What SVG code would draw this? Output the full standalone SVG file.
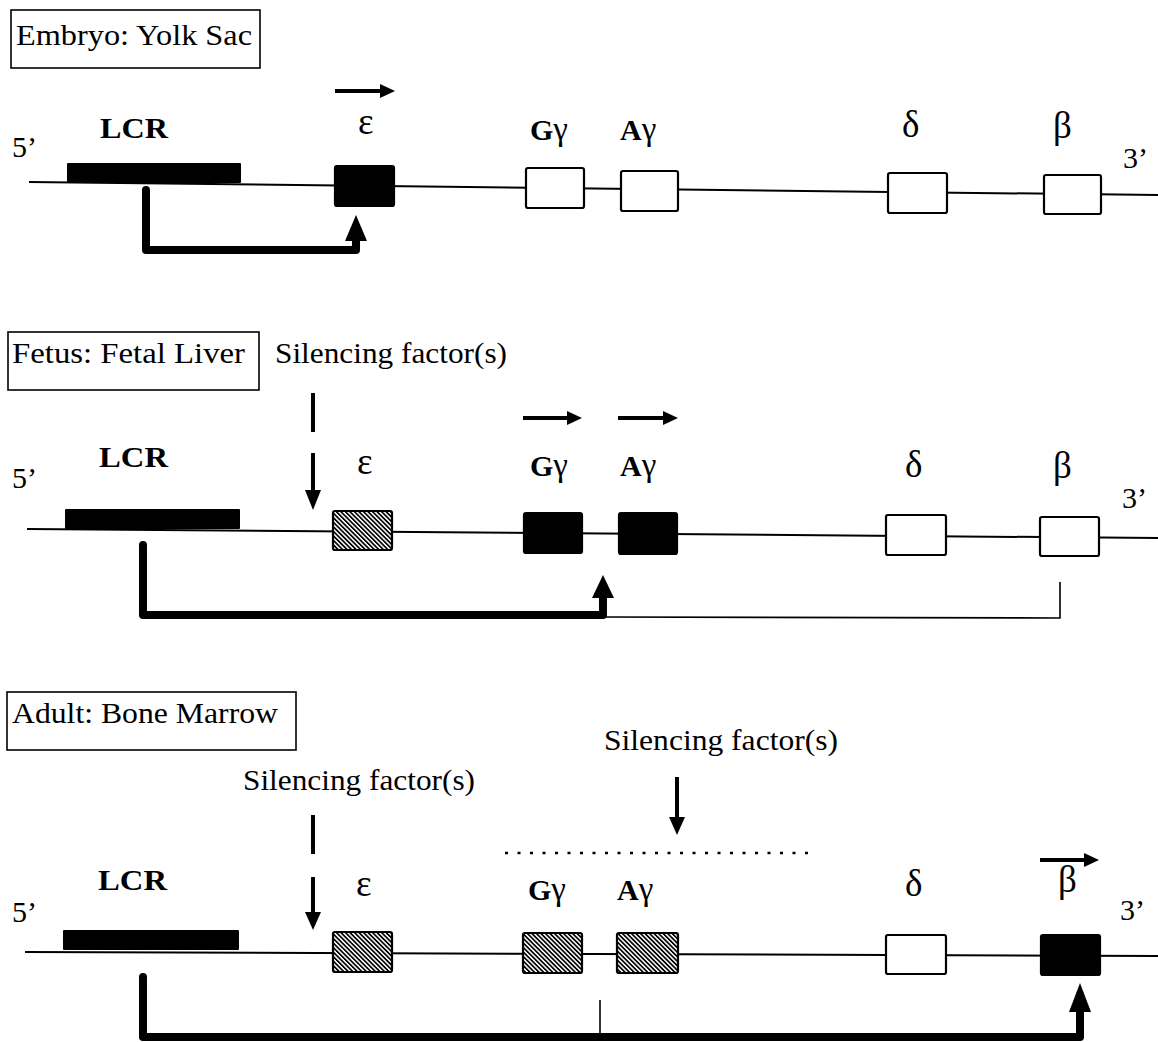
<svg xmlns="http://www.w3.org/2000/svg" width="1158" height="1042" viewBox="0 0 1158 1042">
<style>
.t{font-family:"Liberation Serif","Times New Roman",serif;font-size:30px;fill:#000}
.b{font-weight:bold}
.gk{font-size:37px}
.gm{font-size:33px;font-weight:normal}
.frame{fill:#fff;stroke:#000;stroke-width:1.6}
.open{fill:#fff;stroke:#000;stroke-width:2.2}
.on{fill:#000;stroke:#000;stroke-width:2.2}
.off{fill:url(#hatch);stroke:#000;stroke-width:2.2}
.dna{stroke:#000;stroke-width:2;fill:none}
.loop{stroke:#000;stroke-width:8;fill:none;stroke-linejoin:round;stroke-linecap:round}
.thin{stroke:#000;stroke-width:1.6;fill:none}
.shaft{stroke:#000;stroke-width:4;fill:none}
.head{fill:#000}
.dots{stroke:#000;stroke-width:2.5;stroke-dasharray:3 9.5;fill:none}
</style>
<defs>
<pattern id="hatch" patternUnits="userSpaceOnUse" width="3.2" height="3.2" patternTransform="rotate(-45)">
<rect width="3.2" height="3.2" fill="#fff"/>
<line x1="0.8" y1="0" x2="0.8" y2="3.2" stroke="#000" stroke-width="1.8"/>
</pattern>
</defs>
<rect width="1158" height="1042" fill="#fff"/>

<g id="dna-strands">
<line class="dna" x1="29" y1="182" x2="1158" y2="195"/>
<line class="dna" x1="27" y1="529" x2="1158" y2="538"/>
<line class="dna" x1="25" y1="952" x2="1158" y2="956"/>
</g>

<!-- Panel 1: Embryo -->
<g id="title-embryo"><rect class="frame" x="11" y="10" width="249" height="58"/><text class="t" x="16" y="45" textLength="236" lengthAdjust="spacingAndGlyphs">Embryo: Yolk Sac</text></g>
<g id="p1-5prime"><text class="t" x="12" y="157">5’</text></g>
<g id="p1-3prime"><text class="t" x="1123" y="168">3’</text></g>
<g id="p1-LCR"><text class="t b" x="100" y="138" textLength="68" lengthAdjust="spacingAndGlyphs">LCR</text><rect x="67" y="163" width="174" height="20" fill="#000" rx="1"/></g>
<g id="p1-epsilon"><text class="t gk" x="358" y="134">ε</text><rect class="on" x="335" y="166" width="59" height="40" rx="2"/></g>
<g id="p1-Ggamma"><text class="t b" x="530" y="140">G<tspan class="gm">γ</tspan></text><rect class="open" x="526" y="168" width="58" height="40" rx="2"/></g>
<g id="p1-Agamma"><text class="t b" x="620" y="140">A<tspan class="gm">γ</tspan></text><rect class="open" x="621" y="171" width="57" height="40" rx="2"/></g>
<g id="p1-delta"><text class="t gk" x="902" y="137">δ</text><rect class="open" x="888" y="173" width="59" height="40" rx="2"/></g>
<g id="p1-beta"><text class="t gk" x="1053" y="138">β</text><rect class="open" x="1044" y="175" width="57" height="39" rx="2"/></g>

<!-- Panel 2: Fetus -->
<g id="title-fetus"><rect class="frame" x="8" y="332" width="251" height="58"/><text class="t" x="12" y="363" textLength="233" lengthAdjust="spacingAndGlyphs">Fetus: Fetal Liver</text></g>
<g id="p2-silencer-label"><text class="t" x="275" y="363" textLength="232" lengthAdjust="spacingAndGlyphs">Silencing factor(s)</text></g>
<g id="p2-5prime"><text class="t" x="12" y="488">5’</text></g>
<g id="p2-3prime"><text class="t" x="1122" y="508">3’</text></g>
<g id="p2-LCR"><text class="t b" x="99" y="467" textLength="69" lengthAdjust="spacingAndGlyphs">LCR</text><rect x="65" y="509" width="175" height="20" fill="#000" rx="1"/></g>
<g id="p2-epsilon"><text class="t gk" x="357" y="474">ε</text><rect class="off" x="333" y="511" width="59" height="39" rx="2"/></g>
<g id="p2-Ggamma"><text class="t b" x="530" y="476">G<tspan class="gm">γ</tspan></text><rect class="on" x="524" y="513" width="58" height="40" rx="2"/></g>
<g id="p2-Agamma"><text class="t b" x="620" y="476">A<tspan class="gm">γ</tspan></text><rect class="on" x="619" y="513" width="58" height="41" rx="2"/></g>
<g id="p2-delta"><text class="t gk" x="905" y="477">δ</text><rect class="open" x="886" y="515" width="60" height="40" rx="2"/></g>
<g id="p2-beta"><text class="t gk" x="1053" y="478">β</text><rect class="open" x="1040" y="517" width="59" height="39" rx="2"/></g>

<!-- Panel 3: Adult -->
<g id="title-adult"><rect class="frame" x="7" y="692" width="289" height="58"/><text class="t" x="12" y="723" textLength="266" lengthAdjust="spacingAndGlyphs">Adult: Bone Marrow</text></g>
<g id="p3-silencer-label-1"><text class="t" x="243" y="790" textLength="232" lengthAdjust="spacingAndGlyphs">Silencing factor(s)</text></g>
<g id="p3-silencer-label-2"><text class="t" x="604" y="750" textLength="234" lengthAdjust="spacingAndGlyphs">Silencing factor(s)</text></g>
<g id="p3-5prime"><text class="t" x="12" y="922">5’</text></g>
<g id="p3-3prime"><text class="t" x="1120" y="920">3’</text></g>
<g id="p3-LCR"><text class="t b" x="98" y="890" textLength="69" lengthAdjust="spacingAndGlyphs">LCR</text><rect x="63" y="930" width="176" height="20" fill="#000" rx="1"/></g>
<g id="p3-epsilon"><text class="t gk" x="356" y="896">ε</text><rect class="off" x="333" y="932" width="59" height="40" rx="2"/></g>
<g id="p3-Ggamma"><text class="t b" x="528" y="900">G<tspan class="gm">γ</tspan></text><rect class="off" x="523" y="933" width="59" height="40" rx="2"/></g>
<g id="p3-Agamma"><text class="t b" x="617" y="900">A<tspan class="gm">γ</tspan></text><rect class="off" x="617" y="933" width="61" height="40" rx="2"/></g>
<g id="p3-delta"><text class="t gk" x="905" y="896">δ</text><rect class="open" x="886" y="935" width="60" height="39" rx="2"/></g>
<g id="p3-beta"><text class="t gk" x="1058" y="892">β</text><rect class="on" x="1041" y="935" width="59" height="40" rx="2"/></g>

<g id="connectors">
<line class="shaft" x1="335" y1="91" x2="382" y2="91"/><polygon class="head" points="395,91 380,84 380,98"/>
<line class="shaft" x1="523" y1="418" x2="569" y2="418"/><polygon class="head" points="582,418 567,411 567,425"/>
<line class="shaft" x1="618" y1="418" x2="665" y2="418"/><polygon class="head" points="678,418 663,411 663,425"/>
<line class="shaft" x1="1040" y1="860" x2="1086" y2="860"/><polygon class="head" points="1099,860 1084,853 1084,867"/>
<path class="loop" d="M146,190 L146,250 L356,250 L356,238"/><polygon class="head" points="356,215 345,241 367,241"/>
<path class="loop" d="M143,545 L143,615 L603,615 L603,596"/><polygon class="head" points="603,575 592,598 614,598"/>
<path class="thin" d="M603,617 L1060,618 L1060,582"/>
<path class="loop" d="M143,977 L143,1037 L1080,1037 L1080,1010"/><polygon class="head" points="1080,983 1069,1012 1091,1012"/>
<line class="thin" x1="600" y1="1000" x2="600" y2="1037"/>
<line class="shaft" x1="313" y1="393" x2="313" y2="432"/><line class="shaft" x1="313" y1="453" x2="313" y2="492"/><polygon class="head" points="313,510 305,490 321,490"/>
<line class="shaft" x1="313" y1="815" x2="313" y2="854"/><line class="shaft" x1="313" y1="877" x2="313" y2="914"/><polygon class="head" points="313,930 305,912 321,912"/>
<line class="shaft" x1="677" y1="777" x2="677" y2="819"/><polygon class="head" points="677,835 669,817 685,817"/>
<line class="dots" x1="505" y1="853" x2="808" y2="853"/>
</g>
</svg>
